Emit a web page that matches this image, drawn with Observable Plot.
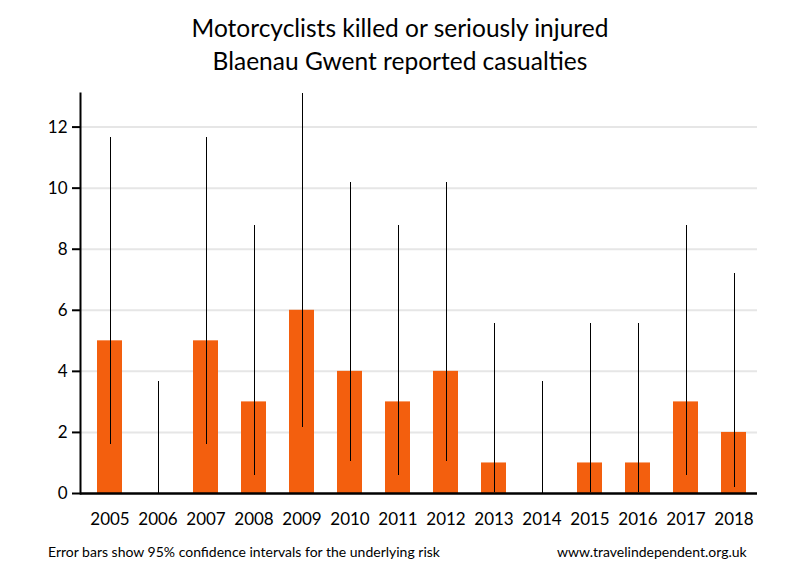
<!DOCTYPE html>
<html>
<head>
<meta charset="utf-8">
<script src="https://cdn.jsdelivr.net/npm/d3@7"></script>
<script src="https://cdn.jsdelivr.net/npm/@observablehq/plot@0.6"></script>
<style>
  body { margin: 0; background: #fff; font-family: Lato, "Open Sans", sans-serif; }
  #wrap { position: relative; width: 800px; height: 580px; }
  #title { position: absolute; top: 11px; left: 0; width: 800px; text-align: center; font-size: 24.5px; line-height: 33px; color: #000; }
  #chart { position: absolute; top: 0; left: 0; }
  .foot { position: absolute; top: 543px; font-size: 14px; color: #000; }
</style>
</head>
<body>
<div id="wrap">
  <div id="chart"></div>
  <div id="title">Motorcyclists killed or seriously injured<br>Blaenau Gwent reported casualties</div>
  <div class="foot" style="left:48px">Error bars show 95% confidence intervals for the underlying risk</div>
  <div class="foot" style="left:557px">www.travelindependent.org.uk</div>
</div>
<script>
const years = ["2005","2006","2007","2008","2009","2010","2011","2012","2013","2014","2015","2016","2017","2018"];
const casualties = [5, 0, 5, 3, 6, 4, 3, 4, 1, 0, 1, 1, 3, 2];
const lower = [1.6, 0, 1.6, 0.6, 2.15, 1.05, 0.6, 1.05, 0.03, 0, 0.03, 0.03, 0.6, 0.2];
const upper = [11.67, 3.67, 11.67, 8.77, 13.1, 10.2, 8.77, 10.2, 5.57, 3.67, 5.57, 5.57, 8.77, 7.2];
const yTicks = [0, 2, 4, 6, 8, 10, 12];

const data = years.map((y, i) => ({year: y, value: casualties[i], lo: lower[i], hi: upper[i]}));

const chart = Plot.plot({
  width: 800,
  height: 580,
  marginTop: 93,
  marginBottom: 87,
  marginLeft: 80,
  marginRight: 43,
  style: {fontFamily: "Lato, 'Open Sans', sans-serif", fontSize: "17px", color: "#000", background: "transparent"},
  x: {domain: years, insetLeft: 5, paddingInner: 0.48, paddingOuter: 0.24, label: null},
  y: {domain: [0, 13.1], label: null},
  marks: [
    Plot.ruleY(yTicks.filter(d => d > 0), {stroke: "#e6e6e6", strokeWidth: 2}),
    Plot.barY(data, {x: "year", y: "value", fill: "#f35f0e"}),
    Plot.ruleX(data, {x: "year", y1: "lo", y2: "hi", stroke: "#000", strokeWidth: 1, shapeRendering: "crispEdges"}),
    Plot.axisY({ticks: yTicks, tickSize: 8, tickPadding: 5, stroke: "#000", strokeWidth: 2, fontSize: 17, label: null}),
    Plot.axisX({tickSize: 0, tickPadding: 19, fontSize: 17, label: null}),
    Plot.frame({anchor: "left", stroke: "#000", strokeWidth: 2}),
    Plot.ruleY([0], {stroke: "#000", strokeWidth: 2.5})
  ]
});
document.getElementById("chart").appendChild(chart);
</script>
</body>
</html>
